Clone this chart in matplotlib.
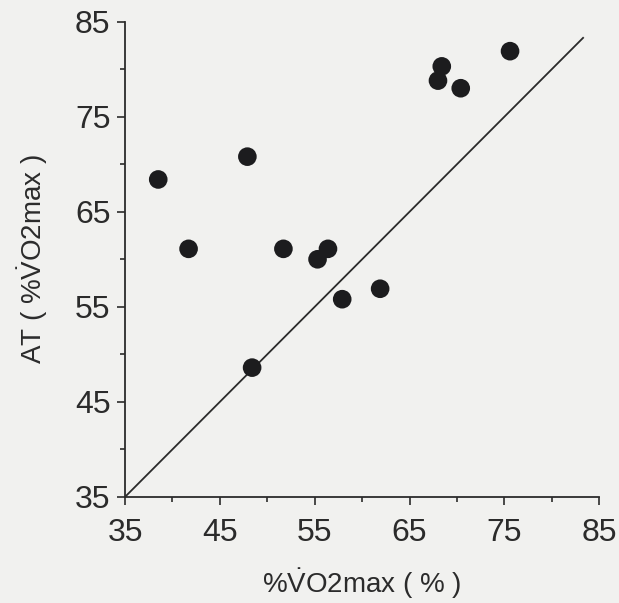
import matplotlib.pyplot as plt
from matplotlib.ticker import MultipleLocator

# %VO2max (%) vs AT (%VO2max)
vo2max_pct = [38.5, 41.7, 47.9, 48.4, 51.7, 55.3, 56.4, 57.9, 61.9, 68.0, 68.4, 70.4, 75.6]
at_pct = [68.4, 61.1, 70.8, 48.6, 61.1, 60.0, 61.1, 55.8, 56.9, 78.8, 80.3, 78.0, 81.9]

identity_line = [35, 83.3]
tick_values = [35, 45, 55, 65, 75, 85]

plt.rcParams['font.family'] = ['Liberation Sans', 'DejaVu Sans']
plt.rcParams['mathtext.fontset'] = 'custom'
plt.rcParams['mathtext.rm'] = 'Liberation Sans'
plt.rcParams['mathtext.it'] = 'Liberation Sans:italic'
plt.rcParams['mathtext.bf'] = 'Liberation Sans:bold'
ink = '#2b2b2b'
paper = '#f1f1ef'

fig = plt.figure(figsize=(6.19, 6.03), dpi=100, facecolor=paper)
ax = fig.add_axes([0.202, 0.176, 0.766, 0.788], facecolor=paper)

ax.plot(identity_line, identity_line, color=ink, lw=1.3, zorder=1)
ax.scatter(vo2max_pct, at_pct, s=180, color='#1c1c1e', edgecolors='none', zorder=2)

ax.set_xlim(35, 85)
ax.set_ylim(35, 85)
ax.set_xticks(tick_values)
ax.set_yticks(tick_values)
ax.xaxis.set_minor_locator(MultipleLocator(5))
ax.yaxis.set_minor_locator(MultipleLocator(5))

for side in ['top', 'right']:
    ax.spines[side].set_visible(False)
for side in ['left', 'bottom']:
    ax.spines[side].set_color(ink)
    ax.spines[side].set_linewidth(1.3)

ax.tick_params(which='major', direction='out', length=5.5, width=1.2, color=ink,
               labelsize=23, labelcolor=ink)
ax.tick_params(axis='x', which='major', pad=10)
ax.tick_params(axis='y', which='major', pad=5)
ax.tick_params(which='minor', direction='out', length=3.5, width=1.2, color=ink)

ax.set_xlabel(r'%$\dot{\mathrm{V}}$O2max ( % )', fontsize=20, color=ink, labelpad=13)
ax.set_ylabel(r'AT ( %$\dot{\mathrm{V}}$O2max )', fontsize=20, color=ink, labelpad=18)

fig.savefig('out.png', dpi=100, facecolor=paper)
